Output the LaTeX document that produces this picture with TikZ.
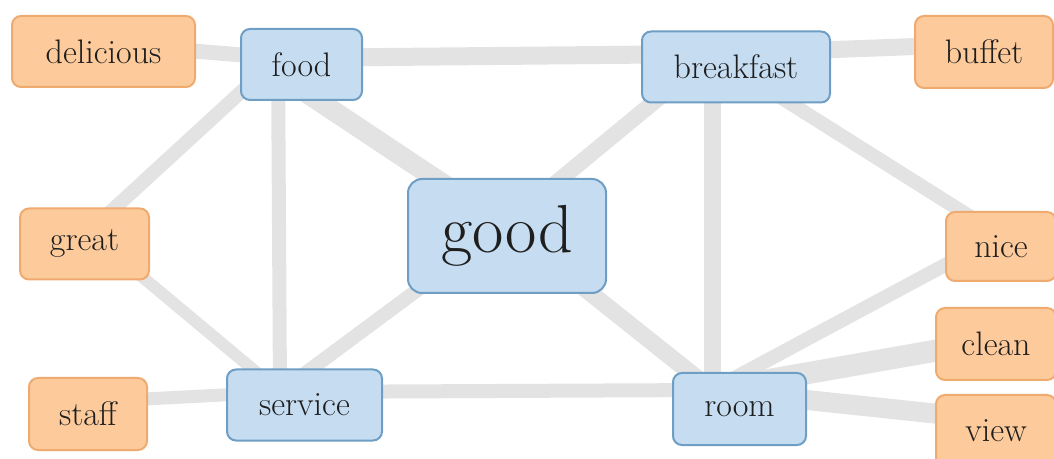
\documentclass[tikz,border=0pt]{standalone}
\usetikzlibrary{backgrounds}

\definecolor{wordfill}{HTML}{FDCB9B}
\definecolor{worddraw}{HTML}{EFAA70}
\definecolor{topicfill}{HTML}{C6DCF1}
\definecolor{topicdraw}{HTML}{6E9EC4}
\definecolor{linkgray}{HTML}{E3E3E3}
\definecolor{inkdark}{HTML}{1E1E1E}

\begin{document}
\begin{tikzpicture}[x=0.5pt,y=-0.5pt,
    box/.style={rounded corners=4.5pt, line width=1pt, text=inkdark, inner sep=0pt,
        minimum height=35.5pt, font=\fontsize{17}{20}\selectfont},
    word/.style={box, draw=worddraw, fill=wordfill},
    topic/.style={box, draw=topicdraw, fill=topicfill},
    link/.style={draw=linkgray, line width=#1},
    link/.default=7pt]

    % Page size of the reference (pixels)
    \useasboundingbox (0,0) rectangle (1054,459);

    % Topic words (blue)
    \node[topic, minimum width=60.5pt] (food) at (301.5,64.5) {food};
    \node[topic, minimum width=94pt] (breakfast) at (736,67) {breakfast};
    \node[topic, minimum width=99pt, minimum height=57pt, rounded corners=7pt,
        font=\fontsize{34}{40}\selectfont] (good) at (507,236) {good};
    \node[topic, minimum width=77.5pt] (service) at (304.5,405) {service};
    \node[topic, minimum width=66.5pt, minimum height=36pt] (room) at (739.5,409) {room};

    % Describing words (orange)
    \node[word, minimum width=91.5pt] (delicious) at (103.5,51.5) {delicious};
    \node[word, minimum width=69pt, minimum height=36pt] (buffet) at (984,52) {buffet};
    \node[word, minimum width=64.5pt] (great) at (84.5,244) {great};
    \node[word, minimum width=55pt, minimum height=34.5pt] (nice) at (1001,246.5) {nice};
    \node[word, minimum width=60pt, minimum height=36pt] (clean) at (996,344) {clean};
    \node[word, minimum width=60pt, minimum height=36pt] (view) at (996,431) {view};
    \node[word, minimum width=59pt, minimum height=36pt] (staff) at (88,414) {staff};

    % Where the links meet each box (they sit off centre)
    \coordinate (food-h) at ([shift={(-23.5,-6.5)}]food.center);
    \coordinate (breakfast-h) at ([shift={(-24,-13)}]breakfast.center);
    \coordinate (good-h) at ([shift={(-2,-11)}]good.center);
    \coordinate (service-h) at ([shift={(-24.5,-13)}]service.center);
    \coordinate (room-h) at ([shift={(-27.5,-19)}]room.center);
    \coordinate (delicious-h) at ([shift={(0,-8)}]delicious.center);
    \coordinate (buffet-h) at ([shift={(0,-8)}]buffet.center);
    \coordinate (great-h) at ([shift={(4,-12)}]great.center);
    \coordinate (nice-h) at ([shift={(-1,-11)}]nice.center);
    \coordinate (clean-h) at ([shift={(0,-4)}]clean.center);
    \coordinate (view-h) at ([shift={(0,-11)}]view.center);
    \coordinate (staff-h) at ([shift={(0,-12)}]staff.center);

    % Links, behind the boxes
    \begin{scope}[on background layer]
        \draw[link=7.5pt] (delicious-h) -- (food-h);
        \draw[link=9pt] (food-h) -- (breakfast-h);
        \draw[link=8.5pt] (breakfast-h) -- (buffet-h);
        \draw[link=7pt] (food-h) -- (great-h);
        \draw[link=7pt] (food-h) -- (service-h);
        \draw[link=10pt] ([yshift=-8pt]food-h) -- (good-h);
        \draw[link=8pt] (breakfast-h) -- (good-h);
        \draw[link=8.5pt] (breakfast-h) -- (room-h);
        \draw[link=7pt] (breakfast-h) -- (nice-h);
        \draw[link=6pt] (great-h) -- (service-h);
        \draw[link=7pt] (good-h) -- (service-h);
        \draw[link=8.5pt] (good-h) -- (room-h);
        \draw[link=6.5pt] (staff-h) -- (service-h);
        \draw[link=7pt] (service-h) -- (room-h);
        \draw[link=7pt] (room-h) -- (nice-h);
        \draw[link=11pt] (room-h) -- (clean-h);
        \draw[link=10pt] (room-h) -- (view-h);
    \end{scope}

\end{tikzpicture}
\end{document}
